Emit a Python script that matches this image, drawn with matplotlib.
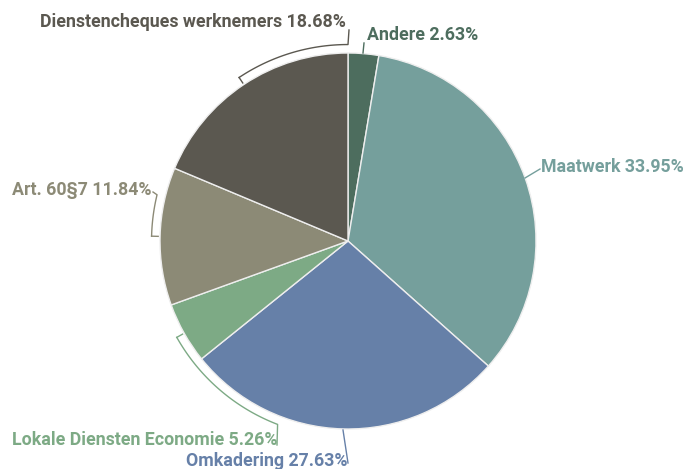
import numpy as np
import matplotlib.pyplot as plt

plt.rcParams['font.family'] = ['Roboto', 'DejaVu Sans']

labels = ['Andere', 'Maatwerk', 'Omkadering', 'Lokale Diensten Economie',
          'Art. 60§7', 'Dienstencheques werknemers']
shares = [2.63, 33.95, 27.63, 5.26, 11.84, 18.68]
colors = ['#4d6d5e', '#759f9c', '#6680a8', '#7daa85', '#8c8a76', '#5b5850']

W, H = 686, 469
cx, cy, R = 348, 241, 188   # pie centre and radius in pixels


def px(x, y):
    # pixel position -> data units (pie radius = 1)
    return (x - cx) / R, (cy - y) / R


fig = plt.figure(figsize=(W / 100, H / 100), dpi=100)
ax = fig.add_axes([0, 0, 1, 1])

ax.pie(shares, colors=colors, startangle=90, counterclock=False, radius=1,
       wedgeprops=dict(edgecolor='#eeeeee', linewidth=1))
# pie() resets the limits, so set them afterwards
ax.set_xlim(-cx / R, (W - cx) / R)
ax.set_ylim(-(H - cy) / R, cy / R)
ax.set_aspect('equal')
ax.axis('off')

# mid angle of each slice (degrees, anticlockwise from +x)
cum = np.cumsum([0] + shares)
mids = 90 - 3.6 * (cum[:-1] + cum[1:]) / 2

# label anchor (pixels), alignment, connector
# arc connectors: (end angle of arc, end point in pixels)
layout = {
    'Andere': dict(pos=(367, 35), ha='left', line=[(363, 53), (364, 43)]),
    'Maatwerk': dict(pos=(541, 167), ha='left', line=[(525, 178), (540, 169)]),
    'Omkadering': dict(pos=(347, 461), ha='right', line=[(343, 430), (348, 463)]),
    'Lokale Diensten Economie': dict(pos=(277, 440), ha='right', arc=(-111.0, (277, 445))),
    'Art. 60§7': dict(pos=(152, 190), ha='right', arc=(166.4, (153, 192))),
    'Dienstencheques werknemers': dict(pos=(346, 22), ha='right', arc=(90.0, (349, 30))),
}

r_arc = 1.045
for lab, val, col, mid in zip(labels, shares, colors, mids):
    lay = layout[lab]
    if 'line' in lay:
        pts = np.array([px(*p) for p in lay['line']])
        ax.plot(pts[:, 0], pts[:, 1], color=col, lw=1)
    else:
        end_ang, end_pt = lay['arc']
        # take the short way round from the slice middle
        end_ang = mid + ((end_ang - mid + 180) % 360 - 180)
        t = np.radians(mid)
        ax.plot([1.01 * np.cos(t), r_arc * np.cos(t)],
                [1.01 * np.sin(t), r_arc * np.sin(t)], color=col, lw=1)
        th = np.radians(np.linspace(mid, end_ang, 60))
        xs = list(r_arc * np.cos(th))
        ys = list(r_arc * np.sin(th))
        ex, ey = px(*end_pt)
        xs.append(ex)
        ys.append(ey)
        ax.plot(xs, ys, color=col, lw=1)
    tx, ty = px(*lay['pos'])
    ax.text(tx, ty, f'{lab} {val:.2f}%', ha=lay['ha'], va='center',
            fontsize=12.8, fontweight='bold', color=col)

fig.savefig('out.png', dpi=100)
